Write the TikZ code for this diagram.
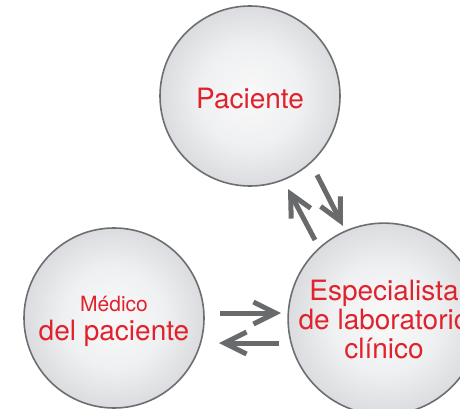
\documentclass[tikz,border=0pt]{standalone}
\usepackage{fontspec}
\setmainfont{TeX Gyre Heros}
\usetikzlibrary{arrows.meta}
\definecolor{txtred}{RGB}{224,34,44}
\definecolor{rimgray}{RGB}{110,110,112}
\definecolor{arrgray}{RGB}{105,106,108}
\definecolor{ctrfill}{RGB}{249,249,250}
\definecolor{midfill}{RGB}{239,240,241}
\definecolor{edgefill}{RGB}{218,220,223}
\pgfdeclareradialshading{bubshade}{\pgfpoint{0bp}{0bp}}{color(0bp)=(ctrfill); color(14bp)=(midfill); color(25bp)=(edgefill); color(50bp)=(edgefill)}
\newcommand{\btext}[2]{\raisebox{-#1}[\height][\depth]{\begin{tabular}{@{}c@{}}#2\end{tabular}}}
\tikzset{
  bubble/.style={circle, draw=rimgray, line width=1.6pt, minimum size=180pt,
    inner sep=0pt, shading=bubshade,
    text=txtred, font=\fontsize{28}{28}\selectfont},
  flow/.style={draw=arrgray, line width=5pt,
    -{Straight Barb[length=22pt,width=22pt]}}
}
\begin{document}
\begin{tikzpicture}[x=1pt,y=-1pt]
\useasboundingbox (0,0) rectangle (460,409);
\clip (0,0) rectangle (460,409);
\fill[white] (0,0) rectangle (460,409);
\node[bubble] (pac) at (250,96) {\btext{6.4pt}{Paciente}};
\node[bubble] (med) at (114,318) {\btext{2.5pt}{{\fontsize{21}{28}\selectfont Médico}\\del paciente}};
\node[bubble, font=\fontsize{28}{29}\selectfont] (esp) at (384,319) {\btext{4.5pt}{Especialista\\de laboratorio\\clínico}};
% arrow endpoints
\coordinate (a1s) at (315,240);
\coordinate (a1e) at (288,189);
\coordinate (a2s) at (317,175);
\coordinate (a2e) at (343,226);
\coordinate (b1s) at (220,313);
\coordinate (b1e) at (281,313);
\coordinate (b2s) at (279,343);
\coordinate (b2e) at (219,343);
\draw[flow] (a1s) -- (a1e);
\draw[flow] (a2s) -- (a2e);
\draw[flow] (b1s) -- (b1e);
\draw[flow] (b2s) -- (b2e);
\end{tikzpicture}
\end{document}
